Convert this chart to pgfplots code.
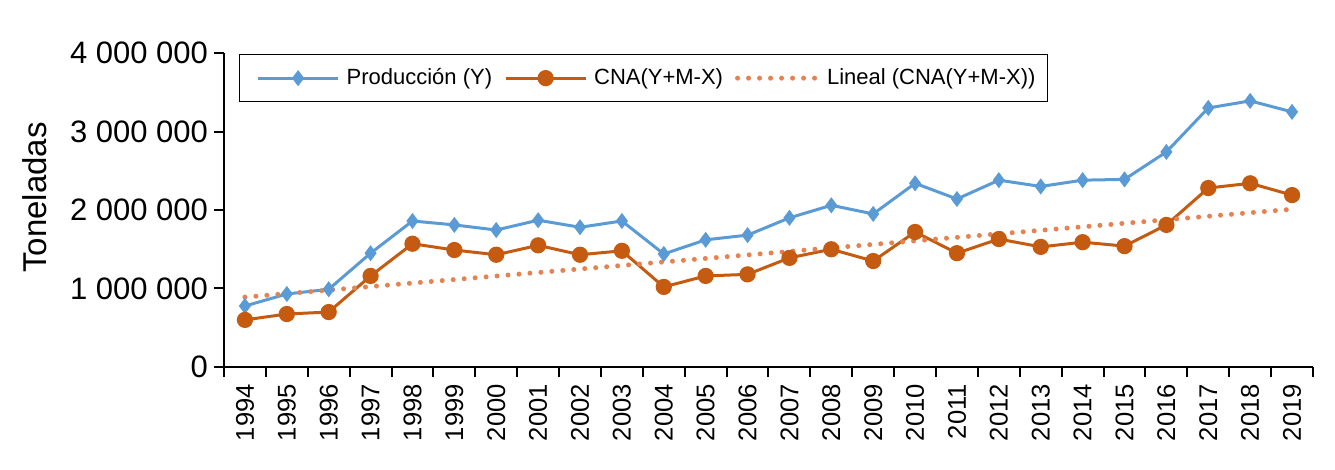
\documentclass[border=0pt]{standalone}
\usepackage{pgfplots}
\pgfplotsset{compat=1.18}
\usepackage{fontspec}
\setmainfont{Liberation Sans}
\definecolor{cblue}{RGB}{91,155,213}
\definecolor{corange}{RGB}{197,90,17}
\definecolor{ctrend}{RGB}{230,130,80}
\pgfplotsset{
  firstimg/.style={legend image code/.code={\path (-4.5pt,0pt); \draw[##1, mark repeat=2, mark phase=2] plot coordinates {(0pt,0pt) (20pt,0pt) (40pt,0pt)};}}
}
\begin{document}
\begin{tikzpicture}
\begin{axis}[
  scale only axis, width=544.5pt, height=157pt,
  xmin=-0.5, xmax=25.5, ymin=0, ymax=4000000,
  axis lines=left, axis line style={-, line width=1pt, black},
  xtick={0,...,25},
  xticklabels={1994,1995,1996,1997,1998,1999,2000,2001,2002,2003,2004,2005,2006,2007,2008,2009,2010,2011,2012,2013,2014,2015,2016,2017,2018,2019},
  x tick label style={rotate=90, anchor=east, font=\fontsize{12.8}{14}\selectfont},
  major x tick style={draw=none},
  minor xtick={-0.5,0.5,...,25.5},
  tick align=outside,
  major tick length=5pt, minor tick length=5pt,
  tick style={black, line width=1pt},
  ytick={0,1000000,2000000,3000000,4000000},
  yticklabels={0,1 000 000,2 000 000,3 000 000,4 000 000},
  scaled y ticks=false,
  y tick label style={font=\fontsize{15.5}{17}\selectfont, xshift=0.5pt},
  ylabel={Toneladas},
  ylabel style={font=\fontsize{16.5}{18}\selectfont, at={(axis description cs:-0.1736,0.54)}, anchor=center},
  legend columns=3,
  legend style={at={(axis description cs:0.0138,0.997)}, anchor=north west,
    draw=black, line width=0.6pt, font=\fontsize{11}{13}\selectfont,
    inner xsep=4pt, inner ysep=5pt,
    /tikz/every odd column/.append style={column sep=1.5pt},
    /tikz/every even column/.append style={column sep=4pt}},
  legend image code/.code={\draw[#1, mark repeat=2, mark phase=2] plot coordinates {(0pt,0pt) (20pt,0pt) (40pt,0pt)};},
]
\addplot[cblue, line width=1.5pt, mark=diamond*, mark size=2.8pt, mark options={solid}, firstimg] coordinates {
(0,777000)(1,930000)(2,990000)(3,1450000)(4,1860000)(5,1810000)(6,1745000)(7,1870000)(8,1780000)(9,1860000)
(10,1440000)(11,1620000)(12,1680000)(13,1900000)(14,2060000)(15,1950000)(16,2340000)(17,2140000)(18,2380000)(19,2300000)
(20,2380000)(21,2390000)(22,2740000)(23,3300000)(24,3390000)(25,3250000)};
\addlegendentry{Producción (Y)}
\addplot[corange, line width=1.5pt, mark=*, mark size=3.3pt, mark options={solid}] coordinates {
(0,600000)(1,675000)(2,700000)(3,1160000)(4,1570000)(5,1490000)(6,1430000)(7,1550000)(8,1430000)(9,1480000)
(10,1020000)(11,1160000)(12,1180000)(13,1390000)(14,1500000)(15,1350000)(16,1720000)(17,1450000)(18,1630000)(19,1530000)
(20,1590000)(21,1540000)(22,1810000)(23,2280000)(24,2340000)(25,2190000)};
\addlegendentry{CNA(Y+M-X)}
\addplot[ctrend, line width=2.5pt, line cap=round, dash pattern=on 0pt off 5.5pt] coordinates {(0,890000)(25,2010000)};
\addlegendentry{Lineal (CNA(Y+M-X))}
\end{axis}
\pgfresetboundingbox
\path (-112pt,-51.5pt) rectangle (555.5pt,183.5pt);
\end{tikzpicture}
\end{document}
